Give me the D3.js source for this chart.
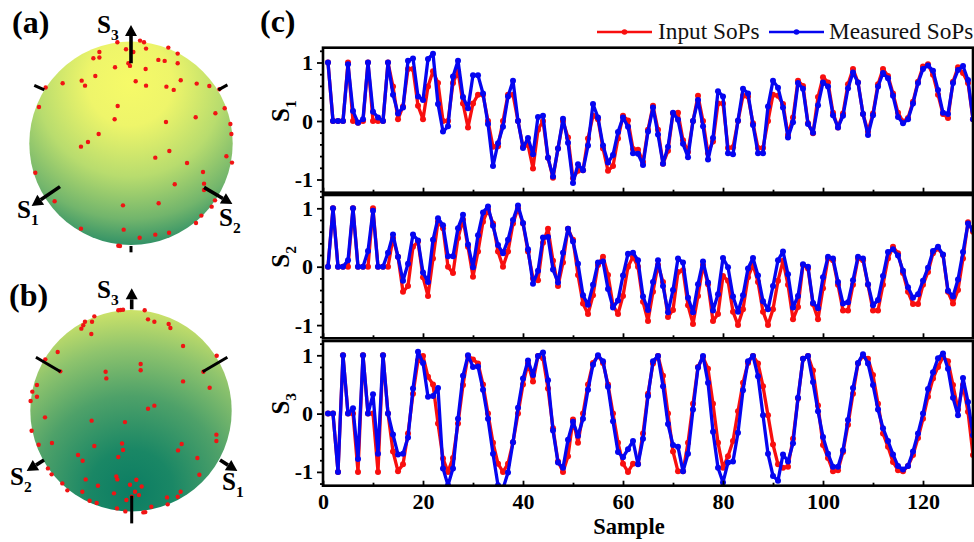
<!DOCTYPE html>
<html>
<head>
<meta charset="utf-8">
<script src="https://cdn.jsdelivr.net/npm/d3@7"></script>
<style>
  html, body { margin: 0; padding: 0; background: #fff; }
  svg { display: block; font-family: "Liberation Serif", serif; }
</style>
</head>
<body>
<svg id="chart" width="974" height="542"></svg>
<script>
// Values, one row = 10 samples
const s1Input = [
  1,0,0,0,1,0,-.03,0,1,0,
  0,0,1,.59,.03,.25,.89,.89,.26,.03,
  .59,.85,.65,0,0,.65,.85,.3,-.11,.3,
  .45,.45,0,-.44,-.43,0,.45,.45,0,-.44,
  -.41,-.81,-.15,0,-.63,-.97,-.47,0,-.28,-.98,
  -.85,-.84,-.3,.09,.03,-.47,-.85,-.77,-.3,.09,
  .01,-.48,-.49,-.7,-.15,.26,-.15,-.73,-.51,.13,
  .14,-.33,-.53,0,.43,0,-.55,-.35,.3,.3,
  -.46,-.45,0,.43,.42,-.04,-.46,-.46,0,.45,
  .43,.29,-.24,.06,.69,.6,-.04,-.21,.41,.75,
  .66,.14,-.11,.13,.63,.89,.66,.12,-.18,.13,
  .63,.89,.77,.47,.14,-.01,.05,.33,.67,.93,
  .97,.79,.45,.12,.05,.67,.92,.82,.65,.03
];
const s1Measured = [
  1,0,0,0,.97,.17,-.03,.03,1,.16,
  .06,0,1,.45,.13,.23,1.03,1.07,.42,.36,
  1.06,1.15,.29,-.18,-.09,.76,1.03,.41,.22,.78,
  .78,.47,-.05,-.77,-.38,-.1,.42,.69,0,-.46,
  -.29,-.57,.07,.09,-.63,-.95,-.47,.04,-.37,-1.06,
  -.74,-.84,-.42,.29,.06,-.42,-.71,-.58,-.19,.06,
  -.1,-.55,-.56,-.75,-.18,.23,-.23,-.73,-.44,.14,
  .02,-.39,-.62,0,.36,-.09,-.66,-.29,.51,.42,
  -.55,-.57,.01,.55,.47,-.07,-.55,-.55,.25,.69,
  .57,.23,-.28,-.02,.65,.55,-.05,-.2,.27,.66,
  .59,.1,-.11,.09,.56,.83,.66,.12,-.24,.1,
  .59,.82,.73,.43,.07,-.04,.03,.3,.65,.89,
  .95,.86,.53,.14,.12,.65,.87,.94,.7,.03
];
const s2Input = [
  0,1,0,0,0,1,0,0,0,1,
  0,0,0,.49,.17,-.43,-.33,.34,.43,-.18,
  -.5,.14,.77,.66,0,-.11,.49,.81,.34,-.17,
  .26,.77,.98,.74,.26,0,.26,.74,1,.74,
  .26,-.2,-.23,.41,.65,.1,-.33,.07,.65,.46,
  -.14,-.63,-.81,-.49,.03,.17,-.14,-.66,-.81,-.5,
  0,.17,0,-.6,-.93,-.43,.03,-.26,-.86,-.74,
  -.09,-.06,-.66,-.98,-.5,.03,-.3,-.93,-.81,-.16,
  -.24,-.77,-1,-.73,-.18,.03,-.26,-.77,-1,-.73,
  -.24,.1,-.31,-.9,-.69,.03,-.03,-.64,-.9,-.37,
  .14,.11,-.31,-.75,-.75,-.31,.14,.11,-.31,-.75,
  -.75,-.31,.14,.34,.23,-.11,-.43,-.64,-.64,-.31,
  -.09,.23,.31,.2,-.43,-.63,-.4,.14,.76,.6
];
const s2Measured = [
  0,1,0,0,.11,1,0,0,.27,.96,
  0,0,.24,.55,.17,-.24,.05,.55,.45,-.1,
  -.26,.46,.83,.71,.18,.18,.66,.89,.38,-.01,
  .54,.93,1.03,.7,.37,.23,.46,.8,1.05,.75,
  .3,-.29,-.07,.5,.51,-.05,-.27,.24,.65,.43,
  .05,-.49,-.65,-.31,.07,.09,-.38,-.7,-.58,-.15,
  .22,.24,.11,-.51,-.74,-.26,.11,-.33,-.78,-.4,
  .14,.07,-.53,-.78,-.3,.09,-.27,-.75,-.47,.15,
  -.01,-.51,-.77,-.49,-.03,.15,-.15,-.59,-.73,-.33,
  .11,.26,-.13,-.7,-.5,.04,0,-.62,-.71,-.18,
  .17,.14,-.26,-.63,-.61,-.23,.17,.14,-.3,-.66,
  -.57,-.16,.25,.3,.19,-.07,-.35,-.53,-.47,-.24,
  -.02,.27,.34,.21,-.41,-.51,-.22,.25,.74,.63
];
const s3Input = [
  0,0,-1,1,0,0,-1,1,0,0,
  -1,1,0,-.65,-.99,-.87,-.34,.34,.91,.99,
  .63,.5,-.17,-.77,-1,-.76,-.17,.49,.99,.93,
  .86,.5,0,-.5,-.86,-1,-.86,-.49,0,.5,
  .86,.55,.99,.95,.43,-.25,-.82,-1,-.73,-.1,
  -.5,0,.5,.87,.99,.87,.5,0,-.5,-.86,
  -1,-.86,-.86,-.34,.34,.86,.99,.65,0,-.65,
  -.99,-.99,-.5,.17,.8,.97,.77,.17,-.5,-.93,
  -.73,-.47,.04,.53,.87,.99,.86,.47,-.03,-.53,
  -.87,-.93,-.91,-.43,.26,.94,.99,.74,.14,-.54,
  -.76,-.99,-.97,-.66,-.19,.34,.86,.99,.94,.66,
  .17,-.34,-.57,-.83,-.97,-.99,-.9,-.71,-.42,-.09,
  .29,.6,.8,.97,.9,.49,.07,.49,.03,-.71
];
const s3Measured = [
  0,0,-1,1,0,.09,-.78,1,0,.33,
  -.69,1,0,-.36,-.7,-.69,-.41,.43,1.06,.87,
  .29,.3,.44,-.94,-1.23,-.94,-.09,.65,1,.8,
  .81,.41,-.09,-.69,-1.23,-1.29,-1.01,-.49,.1,.6,
  .91,.66,.99,1.05,.57,-.29,-.84,-.93,-.45,-.14,
  -.38,-.09,.41,.84,1,.9,.46,-.13,-.66,-.75,
  -.61,-.47,-.87,-.43,.3,.9,.99,.47,-.18,-.54,
  -.57,-.99,-.69,.07,.79,.99,.53,-.31,-.93,-1.18,
  -.84,-.82,-.33,.4,.9,.99,.64,-.03,-.69,-1.07,
  -1.15,-.7,-.82,-.51,.27,.94,.99,.54,.04,-.4,
  -.69,-.91,-.91,-.63,-.11,.44,.87,1.02,.86,.49,
  .07,-.25,-.47,-.7,-.9,-.96,-.9,-.65,-.34,0,
  .42,.71,.95,1.03,.77,.27,-.03,.61,.2,-.37
];
const sampleTicks = [0, 20, 40, 60, 80, 100, 120];
const sampleMinorTicks = [10, 30, 50, 70, 90, 110, 130];
const stokesTicks = [-1, 0, 1];
const stokesMinorTicks = [-1.2, -.8, -.6, -.4, -.2, .2, .4, .6, .8, 1.2];

// Poincare sphere points, x / y in sphere radii
const pointsA = [
  [-.134,.993],[.089,1.01],[.128,.993],[.367,.941],[.148,.931],[-.049,.925],[.023,.898],[-.311,.898],
  [.459,.882],[-.311,.843],[-.37,.836],[.269,.82],[.331,.81],[.459,.787],[-.026,.787],[-.01,.761],
  [-.157,.748],[.144,.731],[-.351,.662],[.489,.62],[-.485,.616],[.046,.61],[-.672,.59],[.646,.587],
  [-.452,.567],[.148,.567],[.348,.557],[.77,.564],[.42,.525],[-.839,.548],[.869,.531],[-.905,.357],
  [-.131,.367],[.921,.344],[.83,.295],[.636,.256],[-.161,.236],[.344,.21],[.977,.19],[.987,.092],
  [-.318,.092],[-.423,.013],[-.492,-.033],[.377,-.075],[.239,-.141],[.938,-.128],[.993,-.19],[.551,-.193],
  [-.941,-.289],[.708,-.282],[.43,-.403],[.718,-.397],[.718,-.459],[-.751,-.57],[.272,-.59],[-.079,-.61],
  [.826,-.561],[.793,-.623],[.692,-.711],[.639,-.784],[-.492,-.839],[-.072,-.849],[.374,-.879],[.239,-.898],
  [.085,-.928],[-.125,-1.007],[-.108,-1.01]
];
const pointsB = [
  [-.126,.997],[-.103,1],[-.079,1.003],[.136,.997],[-.364,.937],[.169,.907],[.232,.884],[-.457,.884],
  [-.387,.884],[.374,.861],[-.474,.848],[.391,.821],[-.493,.815],[-.394,.762],[.517,.642],[-.728,.583],
  [.851,.546],[-.851,.51],[.096,.464],[.096,.401],[-.702,.391],[-.252,.387],[.719,.387],[-.245,.321],
  [.517,.291],[-.934,.255],[.781,.228],[-.98,.189],[-.934,.139],[-.997,.096],[.232,.05],[.169,.02],
  [-.854,-.066],[-.391,-.099],[-.06,-.113],[-.987,-.199],[.848,-.238],[.848,-.301],[-.785,-.321],[-.917,-.338],
  [-.089,-.325],[-.364,-.351],[.503,-.331],[-.079,-.391],[.467,-.394],[-.526,-.44],[-.126,-.46],[.659,-.47],
  [-.48,-.497],[-.825,-.573],[-.788,-.632],[.679,-.636],[-.146,-.652],[-.136,-.682],[-.45,-.682],[.053,-.685],
  [-.682,-.722],[.106,-.752],[-.01,-.735],[-.328,-.745],[-.632,-.791],[-.483,-.805],[-.169,-.821],[.04,-.805],
  [.079,-.838],[.493,-.805],[.464,-.854],[.358,-.861],[.007,-.854],[-.046,-.887],[-.411,-.894],[-.341,-.917],
  [.364,-.93],[.202,-.954],[-.139,-.97],[-.056,-1],[.123,-1.01],[.142,-1.007]
];
const ticksA = [[-.951,.57,-.852,.525],[.859,.525,.948,.574],[0,-1.01,0,-1.072]];
const arrowsA = [[0,.787,0,1.164],[-.698,-.426,-.977,-.616],[.718,-.433,.997,-.597]];
const ticksB = [[-.944,.53,-.699,.387],[.712,.387,.957,.53],[.007,-.844,.007,-1.119]];
const arrowsB = [[.007,1.007,.007,1.215],[.884,-.49,1.056,-.599],[-.864,-.49,-1.036,-.599]];

const svg = d3.select("#chart");
const defs = svg.append("defs");

function addGradient(id, cx, cy, r, stops) {
    defs.append("radialGradient")
        .attr("id", id)
        .attr("gradientUnits", "userSpaceOnUse")
        .attr("cx", cx).attr("cy", cy).attr("r", r)
        .selectAll("stop")
        .data(stops)
        .enter()
        .append("stop")
        .attr("offset", d => d[0])
        .attr("stop-color", d => d[1]);
}
addGradient("sphere-a", 130, 83, 170, [[0, "#f6fa68"], [.25, "#eef56a"], [.55, "#b8dc6e"], [.8, "#72b56c"], [1, "#1f8765"]]);
addGradient("sphere-b", 131, 492, 192, [[0, "#0b7d63"], [.22, "#1a8765"], [.5, "#4ea169"], [.75, "#8fc46d"], [1, "#dcea68"]]);

function drawSphere(cx, cy, r, fill, points, ticks, arrows) {
    const sx = d3.scaleLinear().domain([-1, 1]).range([cx - r, cx + r]);
    const sy = d3.scaleLinear().domain([-1, 1]).range([cy + r, cy - r]);
    const g = svg.append("g");

    g.append("circle")
        .attr("cx", cx).attr("cy", cy).attr("r", r)
        .attr("fill", `url(#${fill})`);

    g.selectAll(".pt")
        .data(points)
        .enter()
        .append("circle")
        .attr("class", "pt")
        .attr("cx", d => sx(d[0]))
        .attr("cy", d => sy(d[1]))
        .attr("r", 2.2)
        .attr("fill", "#f01414");

    g.selectAll(".tk")
        .data(ticks)
        .enter()
        .append("line")
        .attr("class", "tk")
        .attr("x1", d => sx(d[0])).attr("y1", d => sy(d[1]))
        .attr("x2", d => sx(d[2])).attr("y2", d => sy(d[3]))
        .attr("stroke", "#000")
        .attr("stroke-width", 3);

    // shaft stops short of the tip, head is drawn on top
    arrows.forEach(a => {
        const x0 = sx(a[0]), y0 = sy(a[1]), x1 = sx(a[2]), y1 = sy(a[3]);
        const len = Math.hypot(x1 - x0, y1 - y0);
        const ux = (x1 - x0) / len, uy = (y1 - y0) / len;
        const hx = x1 - ux * 11, hy = y1 - uy * 11;
        g.append("line")
            .attr("x1", x0).attr("y1", y0)
            .attr("x2", hx).attr("y2", hy)
            .attr("stroke", "#000")
            .attr("stroke-width", 3.6);
        g.append("path")
            .attr("d", d3.line()([[x1, y1], [hx - uy * 6, hy + ux * 6], [hx + uy * 6, hy - ux * 6]]) + "Z")
            .attr("fill", "#000");
    });
}
drawSphere(131, 143.3, 101.7, "sphere-a", pointsA, ticksA, arrowsA);
drawSphere(131, 410.7, 100.7, "sphere-b", pointsB, ticksB, arrowsB);

// S with a subscript, bold serif
function stokesLabel(x, y, n, size, rotate) {
    const t = svg.append("text")
        .attr("transform", `translate(${x},${y})` + (rotate ? " rotate(-90)" : ""))
        .attr("font-weight", "bold")
        .attr("font-size", size)
        .attr("fill", "#000");
    t.append("tspan").text("S");
    t.append("tspan").attr("font-size", size * .62).attr("dy", size * .28).text(n);
    return t;
}
stokesLabel(97, 33, "3", 25);
stokesLabel(17, 218, "1", 25);
stokesLabel(219, 226, "2", 25);
stokesLabel(97, 298, "3", 25);
stokesLabel(10, 485, "2", 25);
stokesLabel(222, 490, "1", 25);

function panelLetter(x, y, s) {
    svg.append("text")
        .attr("x", x).attr("y", y)
        .attr("font-weight", "bold")
        .attr("font-size", 32)
        .text(s);
}
panelLetter(12, 33, "(a)");
panelLetter(9, 306, "(b)");
panelLetter(260, 32, "(c)");

// Line panels
const x = d3.scaleLinear().domain([0, 130]).range([323, 973]);
const panels = [
    { input: s1Input, measured: s1Measured, top: 47.7, bottom: 192.7, zero: 121, unit: 58.5, n: "1" },
    { input: s2Input, measured: s2Measured, top: 195, bottom: 338.3, zero: 266.7, unit: 58.4, n: "2" },
    { input: s3Input, measured: s3Measured, top: 341, bottom: 485.7, zero: 413.6, unit: 58.3, n: "3" }
];

panels.forEach((p, i) => {
    const y = d3.scaleLinear()
        .domain([(p.zero - p.bottom) / p.unit, (p.zero - p.top) / p.unit])
        .range([p.bottom, p.top]);
    const g = svg.append("g");

    defs.append("clipPath").attr("id", `clip-${i}`)
        .append("rect")
        .attr("x", x(0)).attr("y", p.top)
        .attr("width", x(130) - x(0)).attr("height", p.bottom - p.top);

    const plot = g.append("g").attr("clip-path", `url(#clip-${i})`);
    const line = d3.line().x((d, j) => x(j + 1)).y(d => y(d));

    [[p.input, "#f80f0f"], [p.measured, "#0505f0"]].forEach(([values, color]) => {
        plot.append("path")
            .attr("d", line(values))
            .attr("fill", "none")
            .attr("stroke", color)
            .attr("stroke-width", 3.3)
            .attr("stroke-linejoin", "round");
        plot.append("g").selectAll("circle")
            .data(values)
            .enter()
            .append("circle")
            .attr("cx", (d, j) => x(j + 1))
            .attr("cy", d => y(d))
            .attr("r", 3)
            .attr("fill", color);
    });

    const bottom = g.append("g").attr("transform", `translate(0,${p.bottom})`);
    bottom.call(d3.axisBottom(x).tickValues(sampleTicks).tickSize(-5).tickPadding(8).tickFormat(i === 2 ? d3.format("d") : ""));
    const bottomMinor = g.append("g").attr("transform", `translate(0,${p.bottom})`);
    bottomMinor.call(d3.axisBottom(x).tickValues(sampleMinorTicks).tickSize(-3).tickFormat(""));

    // y ticks point outwards
    const left = g.append("g").attr("transform", `translate(${x(0)},0)`);
    left.call(d3.axisLeft(y).tickValues(stokesTicks).tickSize(6).tickPadding(4).tickFormat(d3.format("d")));
    left.selectAll("text").text(d => String(d));
    const leftMinor = g.append("g").attr("transform", `translate(${x(0)},0)`);
    leftMinor.call(d3.axisLeft(y).tickValues(stokesMinorTicks).tickSize(3).tickFormat(""));

    g.selectAll(".domain").remove();
    g.selectAll(".tick line").attr("stroke", "#000").attr("stroke-width", 1.8);
    g.selectAll(".tick text")
        .attr("fill", "#000")
        .attr("font-family", '"Liberation Serif", serif')
        .attr("font-weight", "bold")
        .attr("font-size", 22);

    g.append("rect")
        .attr("x", x(0)).attr("y", p.top)
        .attr("width", x(130) - x(0)).attr("height", p.bottom - p.top)
        .attr("fill", "none")
        .attr("stroke", "#000")
        .attr("stroke-width", 2.6);

    stokesLabel(289, p.zero + 1, p.n, 25, true);
});

svg.append("text")
    .attr("x", 629).attr("y", 534)
    .attr("text-anchor", "middle")
    .attr("font-weight", "bold")
    .attr("font-size", 22.5)
    .text("Sample");

// Legend
const legendItems = [
    { label: "Input SoPs", color: "#f80f0f", x0: 597, x1: 652, tx: 658 },
    { label: "Measured SoPs", color: "#0505f0", x0: 769, x1: 824, tx: 829 }
];
const legend = svg.append("g").selectAll("g").data(legendItems).enter().append("g");
legend.append("line")
    .attr("x1", d => d.x0).attr("x2", d => d.x1)
    .attr("y1", 32).attr("y2", 32)
    .attr("stroke", d => d.color)
    .attr("stroke-width", 2.6);
legend.append("circle")
    .attr("cx", d => (d.x0 + d.x1) / 2).attr("cy", 32).attr("r", 2.8)
    .attr("fill", d => d.color);
legend.append("text")
    .attr("x", d => d.tx).attr("y", 39)
    .attr("font-size", 23.3)
    .attr("fill", "#111")
    .text(d => d.label);
</script>
</body>
</html>
